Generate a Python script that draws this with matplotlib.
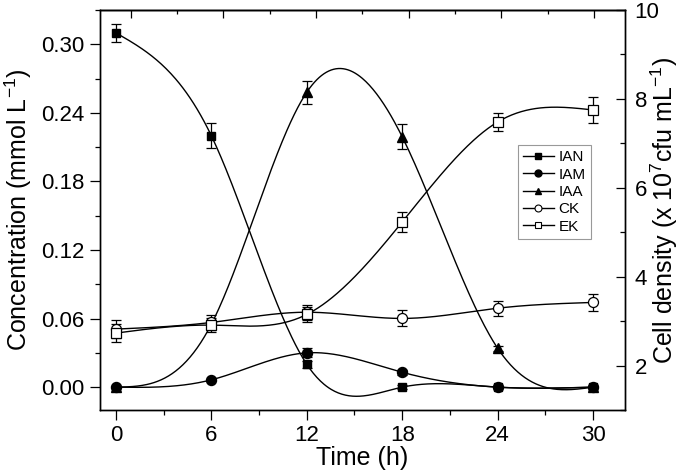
import numpy as np
import matplotlib
matplotlib.use('Agg')
import matplotlib.pyplot as plt
from matplotlib.lines import Line2D
from matplotlib.ticker import MultipleLocator, FormatStrFormatter

plt.rcParams['font.family'] = ['Liberation Sans', 'DejaVu Sans']
plt.rcParams['mathtext.default'] = 'regular'

# sampling times (h)
time = [0, 6, 12, 18, 24, 30]

# concentrations (mmol/L), left axis
ian = [0.310, 0.220, 0.020, 0.000, 0.000, 0.000]
ian_err = [0.008, 0.011, 0.003, 0.002, 0.001, 0.001]
iam = [0.000, 0.0064, 0.030, 0.013, 0.000, 0.000]
iam_err = [0.001, 0.001, 0.004, 0.002, 0.001, 0.001]
iaa = [0.000, 0.055, 0.258, 0.219, 0.034, 0.000]
iaa_err = [0.001, 0.004, 0.010, 0.011, 0.002, 0.001]

# cell density (x10^7 cfu/mL), right axis
ck = [2.82, 2.97, 3.20, 3.06, 3.29, 3.42]
ck_err = [0.20, 0.17, 0.17, 0.18, 0.17, 0.20]
ek = [2.73, 2.91, 3.15, 5.23, 7.48, 7.75]
ek_err = [0.20, 0.16, 0.17, 0.22, 0.20, 0.30]


def natural_spline(x, y, xs):
    # natural cubic spline used only to draw the smooth connecting curve
    x = np.asarray(x, float)
    y = np.asarray(y, float)
    n = len(x)
    h = np.diff(x)
    A = np.zeros((n, n))
    b = np.zeros(n)
    A[0, 0] = A[-1, -1] = 1
    for i in range(1, n - 1):
        A[i, i - 1] = h[i - 1]
        A[i, i] = 2 * (h[i - 1] + h[i])
        A[i, i + 1] = h[i]
        b[i] = 6 * ((y[i + 1] - y[i]) / h[i] - (y[i] - y[i - 1]) / h[i - 1])
    M = np.linalg.solve(A, b)
    idx = np.clip(np.searchsorted(x, xs) - 1, 0, n - 2)
    x0, x1 = x[idx], x[idx + 1]
    hh = x1 - x0
    t0, t1 = x1 - xs, xs - x0
    return (M[idx] * t0**3 / (6 * hh) + M[idx + 1] * t1**3 / (6 * hh)
            + (y[idx] / hh - M[idx] * hh / 6) * t0
            + (y[idx + 1] / hh - M[idx + 1] * hh / 6) * t1)


fig = plt.figure(figsize=(6.8, 4.74), dpi=100)
ax = fig.add_axes([0.147, 0.135, 0.772, 0.844])
ax2 = ax.twinx()

xs = np.linspace(0, 30, 400)
lw = 1.0
ekw = dict(ecolor='k', elinewidth=0.9, capsize=3.6, capthick=0.9, ls='none')

for vals, err, mk, fc in [(ian, ian_err, 's', 'k'),
                          (iam, iam_err, 'o', 'k'),
                          (iaa, iaa_err, '^', 'k')]:
    ax.plot(xs, natural_spline(time, vals, xs), color='k', lw=lw, zorder=2)
    ms = 6 if mk == 's' else 7.2
    ax.errorbar(time, vals, yerr=err, marker=mk, ms=ms, mfc=fc, mec='k',
                zorder=3, **ekw)

for vals, err, mk in [(ck, ck_err, 'o'), (ek, ek_err, 's')]:
    ax2.plot(xs, natural_spline(time, vals, xs), color='k', lw=lw, zorder=2)
    ms = 7.2 if mk == 'o' else 7
    ax2.errorbar(time, vals, yerr=err, marker=mk, ms=ms, mfc='white', mec='k',
                 mew=0.9, zorder=3, **ekw)

ax.set_xlim(-1, 32)
ax.set_ylim(-0.02, 0.33)
ax2.set_ylim(1, 10)

ax.xaxis.set_major_locator(MultipleLocator(6))
ax.xaxis.set_minor_locator(MultipleLocator(3))
ax.yaxis.set_major_locator(MultipleLocator(0.06))
ax.yaxis.set_minor_locator(MultipleLocator(0.03))
ax.yaxis.set_major_formatter(FormatStrFormatter('%.2f'))
ax2.yaxis.set_major_locator(MultipleLocator(2))
ax2.yaxis.set_minor_locator(MultipleLocator(1))

ax.tick_params(which='both', direction='out', top=False, labelsize=16, width=0.9)
ax.tick_params(which='major', length=7, pad=4)
ax.tick_params(which='minor', length=3.5)
ax2.tick_params(which='both', direction='in', labelsize=16, width=0.9)
ax2.tick_params(which='major', length=6.5, pad=7)
ax2.tick_params(which='minor', length=3.5)

# mirrored top axis of the second layer (slightly different x range)
top = ax.secondary_xaxis('top', functions=(lambda x: -2 + (x + 1) * 34 / 33,
                                           lambda t: (t + 2) * 33 / 34 - 1))
top.xaxis.set_major_locator(MultipleLocator(6))
top.xaxis.set_minor_locator(MultipleLocator(3))
top.tick_params(which='both', direction='in', labeltop=False, width=0.9)
top.tick_params(which='major', length=6)
top.tick_params(which='minor', length=3)

for a in (ax, ax2):
    for s in a.spines.values():
        s.set_linewidth(1.0)
top.spines['top'].set_linewidth(1.0)

ax.set_xlabel('Time (h)', fontsize=18, labelpad=0)
ax.set_ylabel('Concentration (mmol L$^{-1}$)', fontsize=18, labelpad=5)
ax2.set_ylabel('Cell density (x 10$^{7}$cfu mL$^{-1}$)', fontsize=18,
               rotation=90, labelpad=-8)

handles = [
    Line2D([], [], color='k', lw=1, marker='s', ms=4.5, mfc='k', mec='k'),
    Line2D([], [], color='k', lw=1, marker='o', ms=5, mfc='k', mec='k'),
    Line2D([], [], color='k', lw=1, marker='^', ms=5, mfc='k', mec='k'),
    Line2D([], [], color='k', lw=1, marker='o', ms=5, mfc='w', mec='k', mew=0.8),
    Line2D([], [], color='k', lw=1, marker='s', ms=4.5, mfc='w', mec='k', mew=0.8),
]
leg = ax2.legend(handles, ['IAN', 'IAM', 'IAA', 'CK', 'EK'], loc='upper left',
                 bbox_to_anchor=(0.796, 0.6625), borderaxespad=0, fontsize=11,
                 fancybox=False, framealpha=1, edgecolor='#999999',
                 handlelength=2.0, handletextpad=0.3, labelspacing=0.22,
                 borderpad=0.35)
leg.get_frame().set_linewidth(0.8)

fig.savefig('out.png', dpi=100)
